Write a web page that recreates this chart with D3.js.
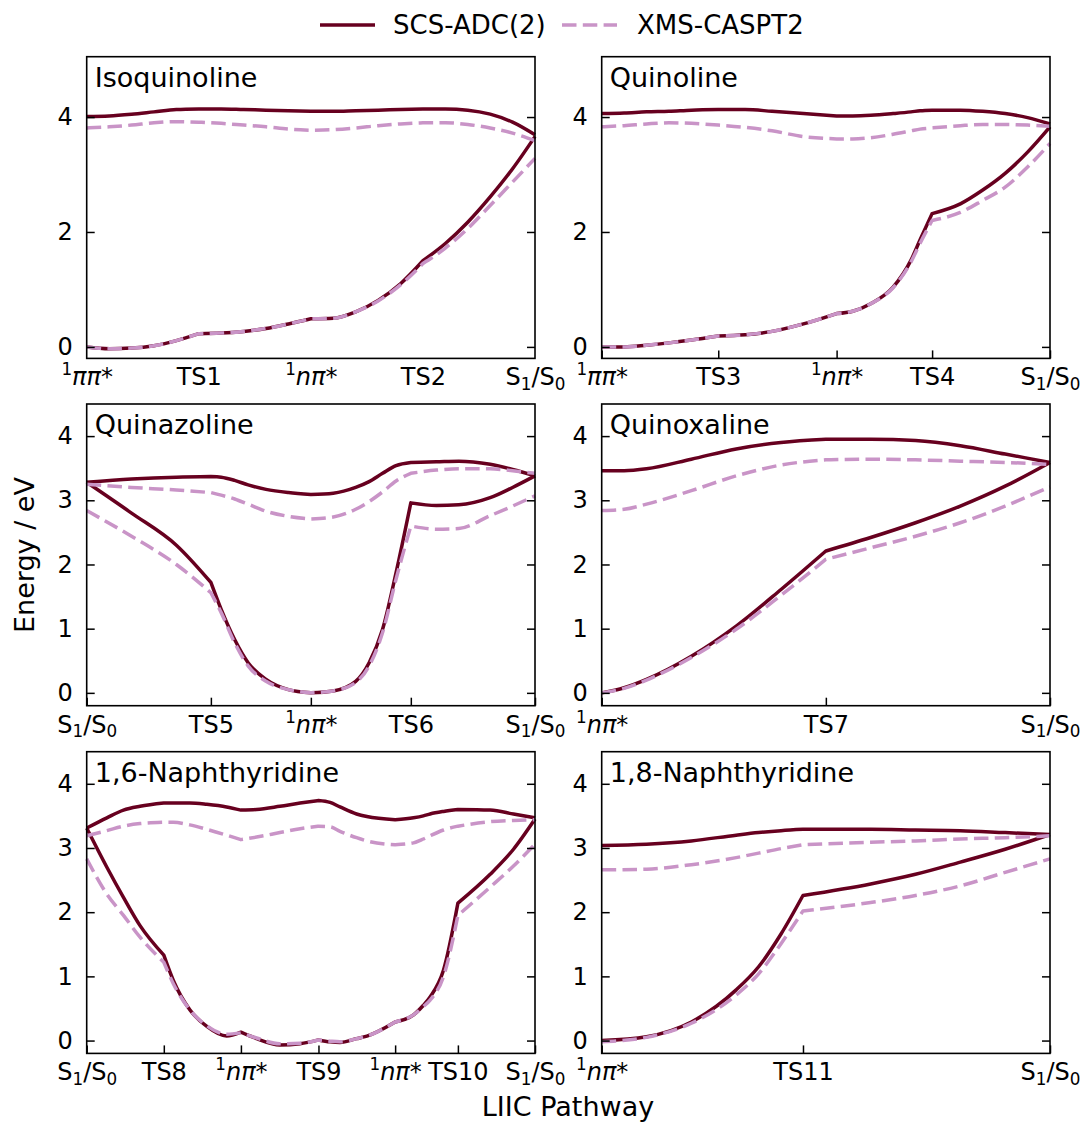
<!DOCTYPE html>
<html>
<head>
<meta charset="utf-8">
<script src="https://cdn.jsdelivr.net/npm/d3@7"></script>
<style>
  body { margin: 0; background: #fff; }
  text { font-family: "DejaVu Sans", sans-serif; fill: #000; }
</style>
</head>
<body>
<script>
// ---- data (x = fraction along LIIC path, y = energy / eV) ----
var isoX      = [0, .05, .1, .15, .2, .25, .3, .35, .4, .45, .5, .55, .6, .65, .7, .75, .8, .85, .9, .95, 1];
var isoS1adc  = [4.01, 4.02, 4.05, 4.09, 4.13, 4.14, 4.14, 4.13, 4.12, 4.11, 4.10, 4.10, 4.11, 4.12, 4.13, 4.14, 4.14, 4.12, 4.05, 3.91, 3.69];
var isoS1xms  = [3.81, 3.83, 3.86, 3.90, 3.92, 3.91, 3.89, 3.86, 3.83, 3.79, 3.77, 3.78, 3.81, 3.85, 3.88, 3.90, 3.90, 3.87, 3.81, 3.72, 3.59];
var isoS0adc  = [0.0, -0.03, -0.02, 0.02, 0.11, 0.23, 0.24, 0.27, 0.32, 0.40, 0.49, 0.50, 0.61, 0.81, 1.10, 1.50, 1.80, 2.17, 2.61, 3.10, 3.66];
var isoS0xms  = [0.0, -0.03, -0.02, 0.02, 0.11, 0.23, 0.24, 0.27, 0.32, 0.40, 0.49, 0.50, 0.61, 0.80, 1.08, 1.45, 1.72, 2.06, 2.46, 2.87, 3.28];
var isoTicks  = [0, .25, .5, .75, 1];
var isoLabels = ["¹ππ*", "TS1", "¹nπ*", "TS2", "S₁/S₀"];

var quiX      = [0, .05, .1, .15, .2, .26, .32, .38, .45, .524, .56, .6, .65, .69, .71, .737, .8, .85, .9, .95, 1];
var quiS1adc  = [4.06, 4.07, 4.09, 4.10, 4.12, 4.13, 4.13, 4.10, 4.06, 4.02, 4.02, 4.03, 4.06, 4.09, 4.11, 4.12, 4.12, 4.10, 4.06, 3.99, 3.88];
var quiS1xms  = [3.83, 3.85, 3.88, 3.90, 3.89, 3.86, 3.82, 3.76, 3.66, 3.62, 3.62, 3.64, 3.70, 3.76, 3.79, 3.81, 3.85, 3.87, 3.87, 3.86, 3.84];
var quiS0adc  = [0.0, 0.0, 0.03, 0.07, 0.12, 0.19, 0.21, 0.27, 0.40, 0.58, 0.62, 0.75, 1.04, 1.51, 1.86, 2.32, 2.49, 2.73, 3.02, 3.39, 3.83];
var quiS0xms  = [0.0, 0.0, 0.03, 0.07, 0.12, 0.19, 0.21, 0.27, 0.40, 0.58, 0.62, 0.75, 1.03, 1.48, 1.80, 2.20, 2.34, 2.55, 2.78, 3.13, 3.54];
var quiTicks  = [0, .26, .524, .737, 1];
var quiLabels = ["¹ππ*", "TS3", "¹nπ*", "TS4", "S₁/S₀"];

var qazX      = [0, .1, .2, .277, .3, .33, .36, .4, .45, .5, .55, .6, .63, .66, .69, .723, .78, .83, .9, .95, 1];
var qazS1adc  = [3.28, 3.33, 3.36, 3.37, 3.36, 3.31, 3.24, 3.17, 3.12, 3.09, 3.11, 3.20, 3.29, 3.42, 3.54, 3.59, 3.60, 3.61, 3.56, 3.48, 3.38];
var qazS1xms  = [3.25, 3.20, 3.16, 3.12, 3.08, 3.02, 2.94, 2.83, 2.75, 2.71, 2.74, 2.86, 2.98, 3.13, 3.30, 3.42, 3.47, 3.49, 3.49, 3.46, 3.42];
var qazS0adc  = [3.28, 2.80, 2.30, 1.72, 1.30, 0.83, 0.47, 0.21, 0.05, 0.0, 0.03, 0.18, 0.47, 0.99, 1.87, 2.96, 2.92, 2.93, 3.04, 3.20, 3.38];
var qazS0xms  = [2.84, 2.44, 2.00, 1.56, 1.25, 0.78, 0.42, 0.18, 0.05, 0.0, 0.03, 0.16, 0.42, 0.94, 1.77, 2.60, 2.55, 2.56, 2.76, 2.91, 3.07];
var qazTicks  = [0, .277, .5, .723, 1];
var qazLabels = ["S₁/S₀", "TS5", "¹nπ*", "TS6", "S₁/S₀"];

var qoxX      = [0, .05, .1, .2, .3, .4, .5, .6, .7, .8, .9, 1];
var qoxS1adc  = [3.46, 3.46, 3.49, 3.64, 3.80, 3.90, 3.95, 3.95, 3.93, 3.85, 3.72, 3.59];
var qoxS1xms  = [2.84, 2.86, 2.94, 3.15, 3.38, 3.55, 3.63, 3.64, 3.63, 3.61, 3.59, 3.56];
var qoxS0adc  = [0.0, 0.08, 0.21, 0.57, 1.04, 1.61, 2.21, 2.42, 2.65, 2.91, 3.22, 3.59];
var qoxS0xms  = [0.0, 0.07, 0.20, 0.55, 0.99, 1.52, 2.08, 2.26, 2.44, 2.65, 2.91, 3.21];
var qoxTicks  = [0, .5, 1];
var qoxLabels = ["¹nπ*", "TS7", "S₁/S₀"];

var n16X      = [0, .045, .082, .119, .172, .193, .23, .268, .312, .344, .379, .431, .476, .517, .543, .565, .602, .625, .688, .729, .751, .766, .796, .828, .9, .952, 1];
var n16S1adc  = [3.31, 3.47, 3.59, 3.65, 3.70, 3.70, 3.70, 3.68, 3.64, 3.59, 3.60, 3.65, 3.70, 3.74, 3.71, 3.64, 3.53, 3.49, 3.44, 3.47, 3.50, 3.53, 3.57, 3.60, 3.59, 3.53, 3.47];
var n16S1xms  = [3.19, 3.27, 3.34, 3.38, 3.40, 3.40, 3.36, 3.29, 3.20, 3.13, 3.17, 3.24, 3.30, 3.34, 3.33, 3.26, 3.16, 3.11, 3.05, 3.08, 3.14, 3.19, 3.28, 3.34, 3.41, 3.43, 3.44];
var n16S0adc  = [3.31, 2.70, 2.23, 1.79, 1.33, 0.94, 0.48, 0.22, 0.07, 0.13, 0.03, -0.07, -0.05, 0.01, -0.02, -0.03, 0.03, 0.07, 0.29, 0.40, 0.55, 0.68, 1.10, 2.14, 2.59, 2.98, 3.45];
var n16S0xms  = [2.83, 2.28, 1.95, 1.61, 1.22, 0.89, 0.48, 0.23, 0.10, 0.12, 0.04, -0.05, -0.04, 0.01, -0.01, -0.02, 0.03, 0.07, 0.29, 0.40, 0.53, 0.63, 1.00, 1.95, 2.39, 2.72, 3.06];
var n16Ticks  = [0, .172, .344, .517, .688, .828, 1];
var n16Labels = ["S₁/S₀", "TS8", "¹nπ*", "TS9", "¹nπ*", "TS10", "S₁/S₀"];

var n18X      = [0, .1, .2, .3, .35, .4, .449, .6, .7, .8, .9, 1];
var n18S1adc  = [3.04, 3.06, 3.11, 3.20, 3.24, 3.27, 3.29, 3.29, 3.28, 3.27, 3.24, 3.21];
var n18S1xms  = [2.66, 2.67, 2.74, 2.85, 2.92, 2.99, 3.05, 3.09, 3.11, 3.14, 3.16, 3.19];
var n18S0adc  = [0.0, 0.06, 0.29, 0.79, 1.15, 1.66, 2.26, 2.44, 2.59, 2.78, 2.98, 3.21];
var n18S0xms  = [-0.02, 0.05, 0.27, 0.71, 1.04, 1.51, 2.02, 2.15, 2.26, 2.41, 2.62, 2.83];
var n18Ticks  = [0, .449, 1];
var n18Labels = ["¹nπ*", "TS11", "S₁/S₀"];

var names   = ["Isoquinoline", "Quinoline", "Quinazoline", "Quinoxaline", "1,6-Naphthyridine", "1,8-Naphthyridine"];
var yTicksTop = [0, 2, 4];
var yTicksRest = [0, 1, 2, 3, 4];
var legendNames = ["SCS-ADC(2)", "XMS-CASPT2"];

var panels = [
  {name: names[0], x: isoX, s1a: isoS1adc, s1x: isoS1xms, s0a: isoS0adc, s0x: isoS0xms, ticks: isoTicks, labels: isoLabels, yt: yTicksTop, ydom: [-0.2, 5.05], xmarks: false},
  {name: names[1], x: quiX, s1a: quiS1adc, s1x: quiS1xms, s0a: quiS0adc, s0x: quiS0xms, ticks: quiTicks, labels: quiLabels, yt: yTicksTop, ydom: [-0.2, 5.05], xmarks: true},
  {name: names[2], x: qazX, s1a: qazS1adc, s1x: qazS1xms, s0a: qazS0adc, s0x: qazS0xms, ticks: qazTicks, labels: qazLabels, yt: yTicksRest, ydom: [-0.2, 4.5], xmarks: true},
  {name: names[3], x: qoxX, s1a: qoxS1adc, s1x: qoxS1xms, s0a: qoxS0adc, s0x: qoxS0xms, ticks: qoxTicks, labels: qoxLabels, yt: yTicksRest, ydom: [-0.2, 4.5], xmarks: true},
  {name: names[4], x: n16X, s1a: n16S1adc, s1x: n16S1xms, s0a: n16S0adc, s0x: n16S0xms, ticks: n16Ticks, labels: n16Labels, yt: yTicksRest, ydom: [-0.2, 4.5], xmarks: true},
  {name: names[5], x: n18X, s1a: n18S1adc, s1x: n18S1xms, s0a: n18S0adc, s0x: n18S0xms, ticks: n18Ticks, labels: n18Labels, yt: yTicksRest, ydom: [-0.2, 4.5], xmarks: true}
];

var dark = "#67001f", light = "#c994c7";
var lw = 3.5, dash = "14.5,6.3";
var tickFont = 24, titleFont = 27, labelFont = 27;

var colX = [86.7, 601.7], rowY = [56.7, 404, 751.7];
var pw = 448.3, ph = 301.7;

var svg = d3.select("body").append("svg")
    .attr("width", 1082)
    .attr("height", 1122);

// mathtext-like tick labels: superscript 1, subscripts, italic n and pi
function richLabel(t, s, F) {
  var cur = 0, math = s.charAt(0) === "¹";
  Array.from(s).forEach(function(ch) {
    var off = 0, size = F, txt = ch, ital = false;
    if (ch === "¹") { off = -0.42 * F; size = 0.7 * F; txt = "1"; }
    else if (ch === "₁") { off = 0.2 * F; size = 0.7 * F; txt = "1"; }
    else if (ch === "₀") { off = 0.2 * F; size = 0.7 * F; txt = "0"; }
    else if (math && (ch === "π" || ch === "n")) ital = true;
    t.append("tspan")
      .attr("font-size", size)
      .attr("dy", off - cur)
      .attr("font-style", ital ? "italic" : "normal")
      .text(txt);
    cur = off;
  });
}

panels.forEach(function(p, i) {
  var left = colX[i % 2], top = rowY[Math.floor(i / 2)];
  var x = d3.scaleLinear().domain([0, 1]).range([0, pw]);
  var y = d3.scaleLinear().domain(p.ydom).range([ph, 0]);
  var g = svg.append("g").attr("transform", "translate(" + left + "," + top + ")");

  var line = d3.line()
      .x(function(d) { return x(d[0]); })
      .y(function(d) { return y(d[1]); })
      .curve(d3.curveMonotoneX);

  // each LIIC segment (between stationary points) is its own smooth curve,
  // joined into one path so kinks stay sharp and dashes run on
  function segPath(pts) {
    var d = "";
    for (var k = 0; k < p.ticks.length - 1; k++) {
      var a = p.ticks[k], b = p.ticks[k + 1];
      var seg = pts.filter(function(q) { return q[0] >= a - 1e-6 && q[0] <= b + 1e-6; });
      var s = line(seg);
      d += (k === 0) ? s : s.replace(/^M/, "L");
    }
    return d;
  }

  [["s0a", dark, null], ["s1a", dark, null], ["s0x", light, dash], ["s1x", light, dash]].forEach(function(c) {
    var pts = p.x.map(function(v, k) { return [v, p[c[0]][k]]; });
    g.append("path")
      .attr("d", segPath(pts))
      .attr("fill", "none")
      .attr("stroke", c[1])
      .attr("stroke-width", lw)
      .attr("stroke-linejoin", "round")
      .attr("stroke-dasharray", c[2]);
  });

  // y axes (left with labels, right without), inward ticks
  g.append("g")
    .call(d3.axisLeft(y).tickValues(p.yt).tickSize(-8).tickPadding(14).tickFormat(d3.format("d")))
    .call(function(a) {
      a.select(".domain").remove();
      a.selectAll("line").attr("stroke-width", 1.5);
      a.selectAll("text").attr("font-size", tickFont).attr("font-family", "DejaVu Sans");
    });
  g.append("g")
    .attr("transform", "translate(" + pw + ",0)")
    .call(d3.axisRight(y).tickValues(p.yt).tickSize(-8).tickFormat(""))
    .call(function(a) {
      a.select(".domain").remove();
      a.selectAll("line").attr("stroke-width", 1.5);
    });

  // x axis
  var xa = g.append("g")
    .attr("transform", "translate(0," + ph + ")")
    .call(d3.axisBottom(x).tickValues(p.ticks).tickSize(p.xmarks ? -8 : 0).tickFormat(""));
  xa.select(".domain").remove();
  xa.selectAll("line").attr("stroke-width", 1.5);
  xa.selectAll(".tick").each(function(d, k) {
    var t = d3.select(this).append("text")
      .attr("y", 27)
      .attr("text-anchor", "middle")
      .attr("font-family", "DejaVu Sans")
      .attr("font-size", tickFont);
    richLabel(t, p.labels[k], tickFont);
  });

  g.append("rect")
    .attr("width", pw).attr("height", ph)
    .attr("fill", "none").attr("stroke", "#000").attr("stroke-width", 1.6);

  g.append("text")
    .attr("x", 8).attr("y", 30)
    .attr("font-size", titleFont)
    .text(p.name);
});

// axis titles
svg.append("text")
  .attr("transform", "translate(34,555) rotate(-90)")
  .attr("text-anchor", "middle")
  .attr("font-size", labelFont)
  .text("Energy / eV");
svg.append("text")
  .attr("x", 568).attr("y", 1116)
  .attr("text-anchor", "middle")
  .attr("font-size", labelFont)
  .text("LIIC Pathway");

// legend
var leg = svg.append("g");
[[320, 393, dark, null], [562, 637, light, dash]].forEach(function(l, k) {
  leg.append("line")
    .attr("x1", l[0]).attr("x2", l[0] + 55).attr("y1", 25).attr("y2", 25)
    .attr("stroke", l[2]).attr("stroke-width", lw).attr("stroke-dasharray", l[3]);
  leg.append("text")
    .attr("x", l[1]).attr("y", 34)
    .attr("font-size", 26)
    .text(legendNames[k]);
});
</script>
</body>
</html>
